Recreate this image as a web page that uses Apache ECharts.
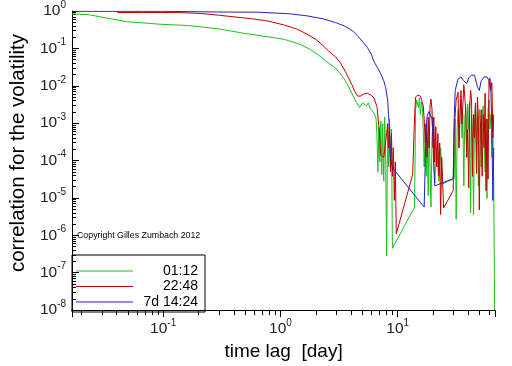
<!DOCTYPE html>
<html><head><meta charset="utf-8">
<script src="https://cdn.jsdelivr.net/npm/echarts@6/dist/echarts.min.js"></script>
<style>html,body{margin:0;padding:0;background:#fff}#c{width:512px;height:366px}</style>
</head><body><div id="c"></div>
<script>
const seriesNames = ['01:12', '22:48', '7d 14:24'];

const greenLag = [0.0167,0.0235,0.0356,0.0482,0.097,0.162,0.303,0.469,0.782,1.08,1.46,1.76,2.13,2.58,2.95,3.36,3.70,4.06,4.47,4.73,5.01,5.20,5.40,5.61,5.83,6.05,6.28,6.53,6.65,6.78,6.91,7.04,7.18,7.31,7.45,7.60,7.74,7.89,8.04,8.20,8.35,8.51,8.67,8.84,9.01,13.9,14.2,14.5,15.0,15.3,15.6,15.9,16.2,16.5,16.8,17.2,17.5,17.8,18.2,18.5,18.9,19.2,19.6,20.0,20.3,20.7,21.5,22.4,23.2,24.1,30.3,30.9,31.5,32.1,32.7,33.3,34.0,34.6,35.3,35.9,36.6,37.3,38.0,38.7,39.5,40.3,41.0,41.8,42.6,43.4,44.3,45.1,46.0,46.9,47.8,48.7,49.6,50.6,51.5,52.5,53.5,54.5,55.6,56.6,57.7,58.9,60.0,61.1,62.3,63.5,64.7,65.9,67.0];
const greenCorr = [0.84,0.79,0.62,0.52,0.44,0.41,0.33,0.258,0.204,0.174,0.13,0.097,0.065,0.040,0.0297,0.0182,0.0114,0.0063,0.0035,0.0026,0.0035,0.0039,0.0029,0.0035,0.00246,0.0026,0.00183,0.00137,0.00047,5.0e-5,8e-4,9.1e-5,0.00115,4.2e-5,9.6e-4,2.8e-5,0.00145,1.22e-4,2.8e-7,9.6e-4,6.8e-5,0.0013,5.0e-5,7e-4,4.5e-7,5.7e-6,0.0023,0.0042,0.0026,0.0047,0.0017,0.0037,0.0026,7e-4,6.8e-5,9.6e-4,3.8e-5,4e-4,1.16e-5,7e-4,5e-5,5.7e-6,4e-4,0.00145,1.22e-4,2.5e-5,2.2e-4,2.8e-5,2.2e-4,2.35e-5,3.3e-5,0.0013,2.7e-6,7e-4,0.0023,2.2e-4,0.0031,0.0042,4e-4,0.0017,2.1e-5,0.0013,0.0026,1.22e-4,0.0033,7e-4,0.0037,4e-6,0.0017,4e-4,3.6e-6,0.0013,0.0029,2.2e-4,0.0017,2.1e-5,0.0023,7e-4,6.8e-5,0.0017,0.0029,4e-4,5e-5,0.0013,9.7e-6,0.0023,0.0042,7e-4,0.0017,1.22e-4,9.6e-4,1.75e-5,1e-8];

const redLag = [0.0406,0.0665,0.137,0.207,0.303,0.566,0.782,1.08,1.38,1.67,2.02,2.30,2.58,2.95,3.24,3.56,3.84,4.06,4.30,4.55,4.82,5.10,5.50,5.94,6.28,6.65,6.91,7.18,7.60,7.89,8.04,8.20,8.35,8.51,8.67,8.84,9.01,9.18,9.36,9.53,9.72,13.4,13.9,14.2,14.8,15.6,16.2,16.5,16.8,17.2,17.5,17.8,18.2,18.5,18.9,19.2,19.6,20.0,20.3,20.7,21.1,21.5,22.0,22.4,22.8,23.2,23.7,24.6,29.7,30.3,31.5,32.7,33.3,34.6,35.3,36.6,38.0,38.7,39.5,40.3,41.0,41.8,42.6,43.4,44.3,45.1,46.0,46.9,47.8,48.7,49.6,50.6,51.5,52.5,53.5,54.5,55.6,56.6,57.7,58.9,60.0,61.1,62.3,63.5,64.7,65.9];
const redCorr = [0.915,0.915,0.905,0.86,0.767,0.62,0.54,0.42,0.33,0.243,0.171,0.12,0.084,0.059,0.0416,0.0245,0.0153,0.0107,0.0071,0.0053,0.0053,0.006,0.0063,0.0056,0.0047,0.0028,0.0008,1.37e-4,1.22e-4,1.09e-4,5.3e-4,9.6e-4,2.2e-4,8e-4,5.0e-5,5.3e-4,3.8e-5,2.2e-4,8.6e-6,9.1e-5,1.1e-6,4.2e-5,0.0013,0.005,0.0056,0.0053,0.005,0.0029,0.0013,2.95e-4,9.6e-4,1.22e-4,0.00145,2.2e-4,0.0031,0.0044,0.0023,2.2e-4,0.00145,9.1e-5,8e-4,6.8e-5,5.3e-4,3.8e-5,2.95e-4,3.6e-6,1.22e-4,5.4e-6,1.56e-5,7e-4,0.0042,0.0067,2.2e-4,0.0075,9.6e-4,0.0107,0.0023,1.22e-4,7e-4,1.86e-5,0.0023,0.0075,0.0042,3.8e-5,0.0017,4e-4,0.0035,4.5e-5,0.005,0.0013,4.8e-6,7e-4,0.0023,3.8e-5,0.0017,2.2e-4,0.0063,1.56e-5,0.0013,3.2e-5,0.0136,0.0162,0.0075,0.0121,4e-4,0.0017];

const blueLag = [0.0167,0.097,0.303,0.647,1.21,1.67,2.30,2.95,3.56,4.14,4.55,5.01,5.50,5.94,6.28,6.78,7.18,7.60,7.89,8.20,8.35,8.51,8.67,8.84,9.18,16.8,17.2,17.5,17.8,18.5,19.2,19.6,20.0,20.3,20.7,29.7,30.3,30.9,32.7,34.6,36.6,38.7,40.3,42.6,45.1,47.8,49.6,51.5,54.5,57.7,60.0,62.3,63.5,64.7,65.9];
const blueCorr = [0.98,0.98,0.94,0.93,0.84,0.745,0.62,0.49,0.39,0.29,0.216,0.152,0.107,0.0706,0.044,0.029,0.0205,0.0136,0.009,0.0042,0.0017,5.4e-4,1.22e-4,8.1e-5,6.0e-5,5.7e-6,1.22e-4,7e-4,0.00154,0.00206,0.0019,0.0013,0.0004,6.8e-5,2.1e-5,3.3e-5,0.0013,0.0075,0.0153,0.0172,0.0136,0.0114,0.0162,0.0193,0.0193,0.0095,0.0075,0.0136,0.0172,0.0172,0.0136,0.0067,7e-4,8.6e-6,2.2e-4];

const seriesColors = ['#1fbf1f', '#c00000', '#2222c0'];
const FONT = '"Liberation Sans", Arial, Helvetica, sans-serif';
const zip = (a, b) => a.map((v, i) => [v, b[i]]);
const powLabel = v => '{b|10}{s|' + Math.round(Math.log10(v)) + '}';
const labelRich = {
  b: { fontSize: 15.5, lineHeight: 22, color: '#222', fontFamily: FONT },
  s: { fontSize: 10, lineHeight: 10, verticalAlign: 'top', color: '#222', fontFamily: FONT }
};

const chart = echarts.init(document.getElementById('c'), null, { renderer: 'canvas' });
const lines = [[greenLag, greenCorr], [redLag, redCorr], [blueLag, blueCorr]];
chart.setOption({
  animation: false,
  backgroundColor: '#fff',
  grid: { left: 57, right: 17, top: 7, bottom: 46 },
  xAxis: {
    type: 'log', logBase: 10, min: 0.0167, max: 67.5,
    axisLine: { lineStyle: { color: '#000', width: 1 } },
    axisTick: { inside: false, length: 7, lineStyle: { color: '#000' } },
    minorTick: { show: true, splitNumber: 9, length: 5, lineStyle: { color: '#000' } },
    axisLabel: { formatter: powLabel, margin: 8, rich: labelRich, showMinLabel: false, showMaxLabel: false },
    splitLine: { show: false }, minorSplitLine: { show: false },
    name: 'time lag  [day]', nameLocation: 'middle', nameGap: 20,
    nameTextStyle: { fontSize: 19, color: '#000', fontFamily: FONT }
  },
  yAxis: {
    type: 'log', logBase: 10, min: 1e-8, max: 1,
    axisLine: { show: true, lineStyle: { color: '#000', width: 1 } },
    axisTick: { show: true, inside: true, length: 7, lineStyle: { color: '#000' } },
    minorTick: { show: true, splitNumber: 9, length: 4, lineStyle: { color: '#000' } },
    axisLabel: { formatter: powLabel, margin: 6, rich: labelRich },
    splitLine: { show: false }, minorSplitLine: { show: false },
    name: 'correlation for the volatility', nameLocation: 'middle', nameGap: 37,
    nameTextStyle: { fontSize: 20.5, color: '#000', fontFamily: FONT, padding: [0, 0, 0, 15] }
  },
  legend: {
    orient: 'vertical', left: 72, top: 255,
    padding: [9, 7, 3, 4],
    icon: 'rect', itemWidth: 57, itemHeight: 1, itemGap: 1.5,
    borderColor: '#000', borderWidth: 1,
    data: seriesNames,
    formatter: '{a|{name}}',
    textStyle: { fontFamily: FONT, fontSize: 14, color: '#000',
      rich: { a: { width: 60, height: 14, align: 'right', fontSize: 14, lineHeight: 14, fontFamily: FONT, color: '#000' } } }
  },
  graphic: [{ type: 'text', left: 77, top: 231,
    style: { text: 'Copyright Gilles Zumbach 2012', fontSize: 8.8, fill: '#000', fontFamily: FONT } }],
  series: lines.map((l, i) => ({
    name: seriesNames[i], type: 'line', data: zip(l[0], l[1]),
    symbol: 'none', showSymbol: false, smooth: false, color: seriesColors[i],
    lineStyle: { width: 1, color: seriesColors[i] }
  }))
});
</script></body></html>
